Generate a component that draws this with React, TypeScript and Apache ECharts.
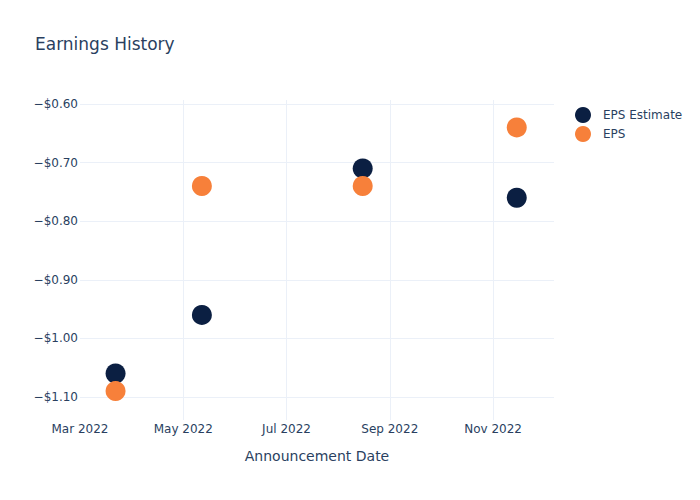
import React, { useEffect, useRef } from 'react';
import * as echarts from 'echarts';

const announcementDates = ['2022-03-22', '2022-05-12', '2022-08-15', '2022-11-14'];
const epsEstimate = [-1.06, -0.96, -0.71, -0.76];
const epsActual = [-1.09, -0.74, -0.74, -0.64];
const xTickLabels = ['Mar 2022', 'May 2022', 'Jul 2022', 'Sep 2022', 'Nov 2022'];
const axisStart = '2022-03-01';
const seriesNames = ['EPS Estimate', 'EPS'];

const DAY = 86400000;
const dayOffset = (d: string) => (Date.parse(d) - Date.parse(axisStart)) / DAY;

const FONT = 'DejaVu Sans';
const TEXT = '#2a3f5f';
const GRID = '#ebf0f8';

export default function App() {
  const ref = useRef<HTMLDivElement>(null);
  useEffect(() => {
    if (!ref.current) return;
    const chart = echarts.init(ref.current, undefined, { renderer: 'svg' });
    chart.setOption({
      animation: false,
      backgroundColor: '#ffffff',
      textStyle: { fontFamily: FONT },
      title: {
        text: 'Earnings History',
        left: 35,
        top: 35,
        padding: 0,
        textStyle: { fontFamily: FONT, fontSize: 17, fontWeight: 'normal', color: TEXT },
      },
      legend: {
        orient: 'vertical',
        left: 570,
        top: 102,
        itemWidth: 30,
        itemHeight: 16,
        itemGap: 3,
        icon: 'circle',
        data: seriesNames,
        textStyle: { fontFamily: FONT, fontSize: 12, color: TEXT },
      },
      grid: { left: 80, top: 100, right: 146, bottom: 80, containLabel: false },
      xAxis: {
        type: 'value',
        min: 0,
        max: 280,
        interval: 61,
        name: 'Announcement Date',
        nameLocation: 'middle',
        nameGap: 29,
        nameTextStyle: { fontFamily: FONT, fontSize: 14, color: TEXT },
        axisLine: { show: false },
        axisTick: { show: false },
        axisLabel: {
          fontFamily: FONT,
          fontSize: 12,
          color: TEXT,
          margin: 3,
          showMaxLabel: false,
          formatter: (v: number) => {
            const i = Math.round(v / 61);
            return Math.abs(v - i * 61) < 1e-6 && xTickLabels[i] ? xTickLabels[i] : '';
          },
        },
        splitLine: { show: true, showMinLine: false, showMaxLine: false, lineStyle: { color: GRID, width: 1 } },
      },
      yAxis: {
        type: 'value',
        min: -1.1393,
        max: -0.5932,
        splitNumber: 5,
        axisLine: { show: false },
        axisTick: { show: false },
        axisLabel: {
          fontFamily: FONT,
          fontSize: 12,
          color: TEXT,
          margin: 2,
          showMinLabel: false,
          showMaxLabel: false,
          formatter: (v: number) => {
            const r = Math.round(v * 10) / 10;
            if (Math.abs(v - r) > 1e-6) return '';
            return (r < 0 ? '\u2212$' : '$') + Math.abs(r).toFixed(2);
          },
        },
        splitLine: { show: true, showMinLine: false, showMaxLine: false, lineStyle: { color: GRID, width: 1 } },
      },
      series: [
        {
          name: seriesNames[0],
          type: 'scatter',
          symbol: 'circle',
          symbolSize: 20,
          itemStyle: { color: '#0b1f42', opacity: 1 },
          data: announcementDates.map((d, i) => [dayOffset(d), epsEstimate[i]]),
        },
        {
          name: seriesNames[1],
          type: 'scatter',
          symbol: 'circle',
          symbolSize: 20,
          itemStyle: { color: '#f7803a', opacity: 1 },
          data: announcementDates.map((d, i) => [dayOffset(d), epsActual[i]]),
        },
      ],
    });
    return () => chart.dispose();
  }, []);
  return <div ref={ref} style={{ position: 'fixed', left: 0, top: 0, width: 700, height: 500 }} />;
}
